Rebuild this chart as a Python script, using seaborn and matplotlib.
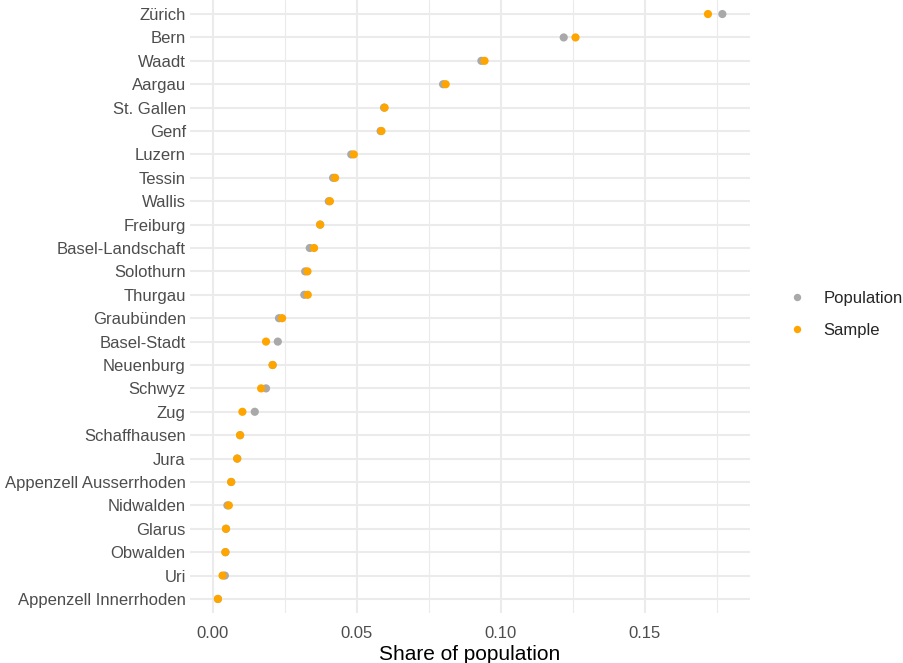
import pandas as pd
import matplotlib.pyplot as plt
import seaborn as sns

# Cantons, ordered by share of population (top to bottom)
cantons = ['Zürich', 'Bern', 'Waadt', 'Aargau', 'St. Gallen', 'Genf', 'Luzern',
           'Tessin', 'Wallis', 'Freiburg', 'Basel-Landschaft', 'Solothurn',
           'Thurgau', 'Graubünden', 'Basel-Stadt', 'Neuenburg', 'Schwyz', 'Zug',
           'Schaffhausen', 'Jura', 'Appenzell Ausserrhoden', 'Nidwalden',
           'Glarus', 'Obwalden', 'Uri', 'Appenzell Innerrhoden']

population = [0.1770, 0.1219, 0.0933, 0.0800, 0.0595, 0.0583, 0.0481,
              0.0418, 0.0403, 0.0373, 0.0337, 0.0321, 0.0318, 0.0230,
              0.0226, 0.0208, 0.0185, 0.0146, 0.0095, 0.0085, 0.0064,
              0.0051, 0.0046, 0.0044, 0.0042, 0.0018]

sample = [0.1720, 0.1260, 0.0944, 0.0809, 0.0597, 0.0586, 0.0490,
          0.0425, 0.0407, 0.0373, 0.0352, 0.0329, 0.0330, 0.0241,
          0.0185, 0.0208, 0.0168, 0.0103, 0.0095, 0.0085, 0.0064,
          0.0056, 0.0046, 0.0044, 0.0034, 0.0018]

df = pd.concat([
    pd.DataFrame({'canton': cantons, 'share': population, 'group': 'Population'}),
    pd.DataFrame({'canton': cantons, 'share': sample, 'group': 'Sample'}),
])

sns.set_style('whitegrid')
plt.rcParams['font.family'] = ['Liberation Sans', 'DejaVu Sans']

fig = plt.figure(figsize=(9.04, 6.63), dpi=100)
ax = fig.add_axes([190 / 904, 50 / 663, 560 / 904, 613 / 663])

sns.stripplot(data=df, x='share', y='canton', hue='group', order=cantons,
              palette={'Population': '#A9A9A9', 'Sample': '#FFA500'},
              jitter=False, size=5.9, linewidth=0, ax=ax, zorder=3)

ax.set_xlim(-0.0079, 0.1866)
ax.set_ylim(len(cantons) - 0.4, -0.6)
ax.set_xticks([0, 0.05, 0.10, 0.15])
ax.set_xticklabels(['0.00', '0.05', '0.10', '0.15'])
ax.set_xticks([0.025, 0.075, 0.125, 0.175], minor=True)

ax.grid(True, which='major', color='#EBEBEB', linewidth=1.5)
ax.grid(True, which='minor', axis='x', color='#EBEBEB', linewidth=0.8)
ax.set_axisbelow(True)
for s in ax.spines.values():
    s.set_visible(False)
ax.tick_params(axis='both', length=0, labelsize=12, labelcolor='#4D4D4D', pad=3)
ax.tick_params(axis='x', pad=9)

ax.set_xlabel('Share of population', fontsize=15, color='black', labelpad=3)
ax.set_ylabel('')

ax.legend(title=None, frameon=False, loc='center left', bbox_to_anchor=(1.042, 0.487),
          fontsize=12, markerscale=0.9, handlelength=1.0, handletextpad=1.1,
          labelspacing=1.0)

fig.savefig('out.png', dpi=100)
